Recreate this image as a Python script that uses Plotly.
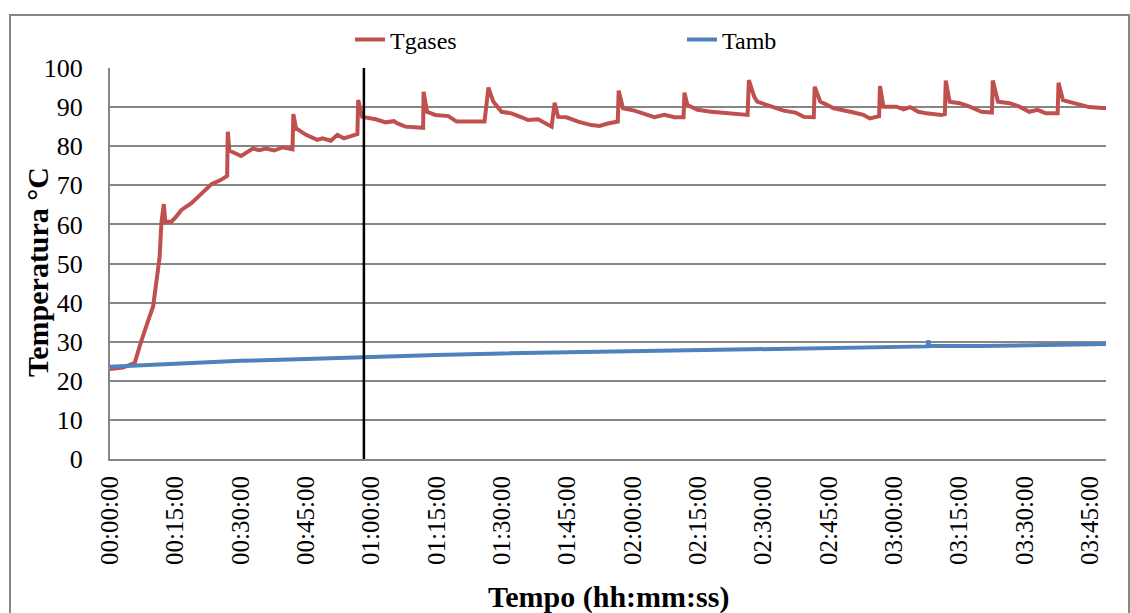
import pandas as pd
import plotly.graph_objects as go

# ---- data (time in minutes from start, temperature in °C) ----
tgases_min = [0, 3, 5.7, 6.9, 8.8, 9.9, 11.0, 11.4, 11.8, 12.35, 12.7, 14.1, 15.2, 16.4, 18.7, 21.0,
              23.3, 25.5, 26.9, 27.05, 27.4, 30.1, 32.8, 34.3, 35.8, 37.7, 39.6, 41.9, 42.1, 42.7,
              45.0, 47.6, 48.8, 50.7, 52.2, 53.7, 56.8, 57.0, 57.9, 61.0, 63.3, 65.2, 65.9, 67.8,
              71.3, 71.9, 72.0, 72.8, 74.7, 77.7, 79.6, 82.3, 86.0, 86.9, 88.0, 89.9, 92.2, 94.5,
              96.0, 98.3, 101.4, 102.1, 102.9, 104.8, 107.5, 110.5, 112.4, 114.3, 116.6, 116.8,
              117.8, 120.4, 122.7, 125.0, 127.3, 129.6, 131.7, 131.9, 132.6, 134.9, 138.0, 141.0,
              143.3, 146.4, 146.7, 147.9, 148.6, 151.7, 154.7, 157.4, 159.3, 161.6, 161.8, 163.1,
              166.2, 170.0, 173.0, 174.5, 176.6, 176.8, 177.6, 180.6, 182.2, 183.7, 185.6, 187.5,
              190.9, 191.7, 191.9, 192.8, 195.1, 197.4, 200.1, 202.5, 202.7, 203.9, 206.6, 208.8,
              211.1, 213.0, 214.9, 217.6, 217.8, 218.8, 221.0, 223.3, 224.8, 228.7]
tgases_val = [23.0, 23.4, 24.6, 29.2, 35.5, 39.0, 48.3, 51.7, 60.3, 65.2, 60.7, 60.7, 62.0, 63.7, 65.4, 68.0,
              70.3, 71.4, 72.4, 83.7, 78.9, 77.5, 79.4, 79.0, 79.4, 78.9, 79.7, 79.2, 88.2, 84.6,
              82.9, 81.6, 82.0, 81.4, 82.9, 82.0, 83.1, 91.8, 87.5, 86.9, 86.1, 86.4, 85.9, 85.0,
              84.6, 84.7, 93.9, 88.8, 88.0, 87.7, 86.3, 86.4, 86.3, 95.0, 91.4, 88.8, 88.4, 87.4,
              86.7, 86.9, 85.0, 91.1, 87.5, 87.4, 86.3, 85.4, 85.2, 85.8, 86.3, 94.2,
              89.7, 89.1, 88.2, 87.4, 88.0, 87.4, 87.4, 93.7, 90.5, 89.3, 88.8, 88.6,
              88.4, 88.0, 96.9, 92.7, 91.4, 90.1, 89.1, 88.6, 87.5, 87.4, 95.2, 91.4,
              89.7, 88.8, 88.0, 87.1, 87.7, 95.4, 90.1, 90.1, 89.4, 90.0, 88.8, 88.4,
              88.0, 88.2, 96.8, 91.4, 91.0, 90.1, 88.8, 88.6, 96.8, 91.4, 91.0, 90.1,
              88.8, 89.3, 88.4, 88.4, 96.2, 91.8, 91.1, 90.5, 90.0, 89.7]

tamb_min = [0, 15, 30, 45, 58, 75, 90, 105, 120, 135, 150, 165, 180, 187.7, 187.9, 188.2, 200, 215, 228.7]
tamb_val = [23.6, 24.4, 25.1, 25.6, 26.1, 26.6, 27.0, 27.3, 27.6, 27.9, 28.1, 28.4, 28.7, 28.8, 30.3, 28.9,
            28.9, 29.1, 29.4]

marker_min = 58.3          # vertical reference line
x_end_min = 228.7          # end of the time axis
tick_step_min = 15

series_names = ["Tgases", "Tamb"]
x_title = "Tempo (hh:mm:ss)"
y_title = "Temperatura °C"

BASE = pd.Timestamp("2000-01-01 00:00:00")


def to_time(mins):
    return [BASE + pd.Timedelta(minutes=m) for m in mins]


FONT = "Liberation Serif"
GRID = "#868686"

fig = go.Figure()
fig.add_trace(go.Scatter(x=to_time(tgases_min), y=tgases_val, mode="lines", name=series_names[0],
                         line=dict(color="#C0504D", width=4), legend="legend", showlegend=True))
fig.add_trace(go.Scatter(x=to_time(tamb_min), y=tamb_val, mode="lines", name=series_names[1],
                         line=dict(color="#4F81BD", width=4), legend="legend2", showlegend=True))

mk = BASE + pd.Timedelta(minutes=marker_min)
fig.add_shape(type="line", xref="x", yref="y", x0=mk, x1=mk, y0=0, y1=100,
              line=dict(color="black", width=2.5))

# outer chart border
L, R, T, B = 110, 1106, 68, 459
W, H = 1130, 613
pw, ph = R - L, B - T
fig.add_shape(type="rect", xref="paper", yref="paper",
              x0=(10 - L) / pw, x1=(1129 - L) / pw, y0=(B - 640) / ph, y1=(B - 15) / ph,
              line=dict(color=GRID, width=2), layer="below")

fig.update_layout(
    width=W, height=H,
    margin=dict(l=L, r=W - R, t=T, b=H - B),
    paper_bgcolor="white", plot_bgcolor="white",
    showlegend=True,
    font=dict(family=FONT, size=25, color="black"),
    legend=dict(orientation="h", x=(350 - L) / pw, y=(B - 40) / ph, xanchor="left", yanchor="middle",
                font=dict(family=FONT, size=24, color="black"), bgcolor="rgba(0,0,0,0)", visible=True),
    legend2=dict(orientation="h", x=(682 - L) / pw, y=(B - 40) / ph, xanchor="left", yanchor="middle",
                 font=dict(family=FONT, size=24, color="black"), bgcolor="rgba(0,0,0,0)", visible=True),
    xaxis=dict(type="date", range=[BASE, BASE + pd.Timedelta(minutes=x_end_min)],
               tick0=BASE, dtick=tick_step_min * 60 * 1000, tickformat="%H:%M:%S",
               tickangle=-90, showgrid=False, showline=True, linecolor=GRID, linewidth=2,
               ticks="", ticklabelstandoff=5, tickfont=dict(family=FONT, size=25, color="black"),
               zeroline=False),
    yaxis=dict(range=[0, 100], dtick=10, showgrid=True, gridcolor=GRID, gridwidth=1.5,
               showline=True, linecolor=GRID, linewidth=2, ticks="", ticklabelstandoff=20,
               tickfont=dict(family=FONT, size=26, color="black"), zeroline=False),
    annotations=[
        dict(text="<b>" + x_title + "</b>", xref="paper", yref="paper", x=0.5, y=(B - 597) / ph,
             showarrow=False, font=dict(family=FONT, size=30, color="black"),
             xanchor="center", yanchor="middle"),
        dict(text="<b>" + y_title + "</b>", xref="paper", yref="paper", x=(37 - L) / pw, y=(B - 272) / ph,
             showarrow=False, font=dict(family=FONT, size=30, color="black"), textangle=-90,
             xanchor="center", yanchor="middle"),
    ],
)

fig.write_html("out.html")
